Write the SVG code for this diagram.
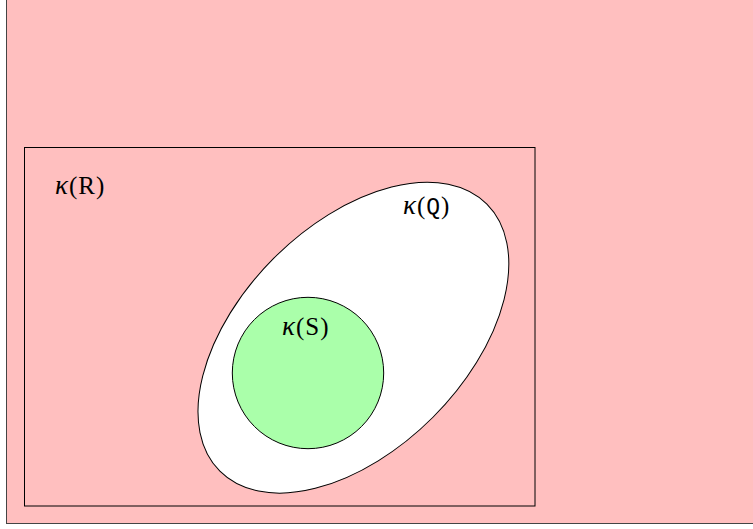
<svg xmlns="http://www.w3.org/2000/svg" width="753" height="529" viewBox="0 0 753 529">
<style>
.ln{stroke:#000;stroke-width:1;}
.lab{fill:#000;font-size:25px;font-family:"Liberation Serif",serif;letter-spacing:1px;}
.k{font-style:italic;font-size:27px;}
.m{font-family:"Liberation Mono",monospace;font-size:23px;}
</style>
<rect x="0" y="0" width="753" height="529" fill="#ffffff"/>
<g id="outer">
<rect x="6.5" y="-10" width="760" height="533.5" fill="#ffbfbf" stroke="#444" stroke-width="1"/>
</g>
<g id="R">
<rect x="24.5" y="147.5" width="510.5" height="358.5" fill="#ffbfbf" class="ln"/>
<text class="lab" x="55" y="194"><tspan class="k">κ</tspan>(R)</text>
</g>
<g id="Q">
<ellipse cx="353.4" cy="337.7" rx="188.8" ry="112.5" transform="rotate(-45 353.4 337.7)" fill="#ffffff" class="ln"/>
<text class="lab" x="403" y="214"><tspan class="k">κ</tspan>(<tspan class="m">Q</tspan>)</text>
</g>
<g id="S">
<circle cx="308" cy="373" r="75.7" fill="#aaffaa" class="ln"/>
<text class="lab" x="282" y="335"><tspan class="k">κ</tspan>(S)</text>
</g>
<g id="connectors"></g>
</svg>
